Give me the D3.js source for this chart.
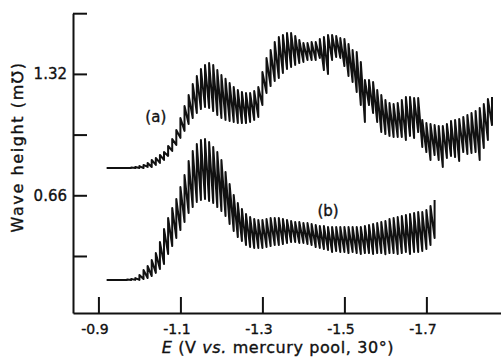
<!DOCTYPE html>
<html>
<head>
<meta charset="utf-8">
<script src="https://cdn.jsdelivr.net/npm/d3@7"></script>
<style>
  body { margin: 0; background: #fff; }
  text { font-family: "DejaVu Sans", sans-serif; fill: #111; stroke: #111; stroke-width: 0.35px; }
</style>
</head>
<body>
<svg id="chart" width="501" height="357"></svg>
<script>
// Potential grid: one recorded oscillation every 10 mV, starting at -0.92 V
const potentialStart = -0.92;
const potentialStep = 0.01;

// Curve (a): top and bottom of each oscillation (mS)
const waveAHigh = [
  0.808, 0.808, 0.808, 0.808, 0.808, 0.808, 0.811, 0.814, 0.819, 0.825,
  0.836, 0.852, 0.863, 0.879, 0.895, 0.928, 0.966, 1.015, 1.080, 1.146,
  1.205, 1.265, 1.309, 1.347, 1.369, 1.379, 1.369, 1.341, 1.314, 1.293,
  1.271, 1.249, 1.233, 1.222, 1.216, 1.216, 1.227, 1.249, 1.330, 1.407,
  1.450, 1.494, 1.521, 1.532, 1.542, 1.542, 1.526, 1.504, 1.488, 1.488,
  1.494, 1.494, 1.510, 1.521, 1.532, 1.532, 1.526, 1.515, 1.510, 1.483,
  1.450, 1.439, 1.385, 1.287, 1.287, 1.276, 1.233, 1.205, 1.178, 1.162,
  1.156, 1.162, 1.178, 1.195, 1.195, 1.189, 1.189, 1.070, 1.053, 1.048,
  1.042, 1.037, 1.037, 1.048, 1.064, 1.070, 1.075, 1.086, 1.097, 1.108,
  1.118, 1.135, 1.156, 1.184, 1.195
];
const waveALow = [
  0.808, 0.808, 0.808, 0.808, 0.808, 0.808, 0.808, 0.808, 0.808, 0.808,
  0.814, 0.814, 0.825, 0.836, 0.852, 0.874, 0.901, 0.934, 0.972, 1.010,
  1.048, 1.080, 1.108, 1.129, 1.140, 1.135, 1.118, 1.097, 1.080, 1.070,
  1.064, 1.059, 1.053, 1.053, 1.053, 1.059, 1.070, 1.086, 1.151, 1.216,
  1.254, 1.282, 1.298, 1.325, 1.347, 1.358, 1.369, 1.379, 1.385, 1.396,
  1.396, 1.396, 1.407, 1.341, 1.320, 1.396, 1.412, 1.407, 1.363, 1.309,
  1.276, 1.222, 1.151, 1.059, 1.151, 1.108, 1.059, 1.004, 0.993, 0.983,
  0.977, 0.977, 0.977, 0.961, 0.983, 0.972, 1.004, 0.923, 0.895, 0.852,
  0.879, 0.852, 0.814, 0.863, 0.874, 0.868, 0.847, 0.895, 0.885, 0.890,
  0.895, 0.852, 0.917, 0.961, 1.042
];

// Curve (b): top and bottom of each oscillation (mS)
const waveBHigh = [
  0.200, 0.200, 0.200, 0.200, 0.200, 0.202, 0.205, 0.210, 0.227, 0.254,
  0.276, 0.308, 0.346, 0.406, 0.477, 0.537, 0.591, 0.640, 0.705, 0.770,
  0.847, 0.901, 0.939, 0.961, 0.966, 0.950, 0.923, 0.895, 0.852, 0.787,
  0.721, 0.662, 0.618, 0.586, 0.558, 0.542, 0.531, 0.526, 0.526, 0.531,
  0.537, 0.537, 0.537, 0.531, 0.526, 0.520, 0.515, 0.515, 0.509, 0.509,
  0.504, 0.499, 0.493, 0.493, 0.488, 0.488, 0.488, 0.488, 0.488, 0.488,
  0.488, 0.488, 0.488, 0.493, 0.499, 0.504, 0.509, 0.515, 0.520, 0.531,
  0.537, 0.542, 0.548, 0.553, 0.558, 0.564, 0.569, 0.569, 0.580, 0.602,
  0.635
];
const waveBLow = [
  0.200, 0.200, 0.200, 0.200, 0.200, 0.200, 0.200, 0.200, 0.200, 0.205,
  0.210, 0.221, 0.238, 0.259, 0.286, 0.341, 0.384, 0.428, 0.471, 0.515,
  0.564, 0.596, 0.624, 0.635, 0.640, 0.629, 0.618, 0.596, 0.575, 0.548,
  0.504, 0.466, 0.433, 0.412, 0.390, 0.379, 0.374, 0.374, 0.374, 0.379,
  0.384, 0.390, 0.390, 0.395, 0.401, 0.406, 0.406, 0.401, 0.401, 0.395,
  0.390, 0.379, 0.374, 0.368, 0.363, 0.352, 0.357, 0.352, 0.352, 0.346,
  0.352, 0.346, 0.341, 0.346, 0.346, 0.341, 0.346, 0.346, 0.340, 0.346,
  0.346, 0.341, 0.346, 0.352, 0.341, 0.352, 0.352, 0.357, 0.368, 0.390,
  0.428
];

// Axis ticks
const xTickValues = [-0.9, -1.1, -1.3, -1.5, -1.7];
const xTickLabels = ["-0.9", "-1.1", "-1.3", "-1.5", "-1.7"];
const yTickValues = [0.33, 0.66, 0.99, 1.32, 1.65];
const yTickLabels = ["", "0.66", "", "1.32", ""];

const svg = d3.select("#chart");

const x = d3.scaleLinear().domain([-0.838, -1.882]).range([73, 501]);
const y = d3.scaleLinear().domain([0.02, 1.65]).range([313, 13.2]);

// Each oscillation: vertical stroke from bottom to top, then on to the next bottom
function oscillation(high, low) {
  const pts = [];
  high.forEach((h, i) => {
    const e = potentialStart - i * potentialStep;
    pts.push([e, low[i]]);
    pts.push([e, h]);
  });
  return pts;
}

const line = d3.line().x(d => x(d[0])).y(d => y(d[1]));

svg.append("g")
  .selectAll("path")
  .data([oscillation(waveAHigh, waveALow), oscillation(waveBHigh, waveBLow)])
  .join("path")
  .attr("d", line)
  .attr("fill", "none")
  .attr("stroke", "#111")
  .attr("stroke-width", 2)
  .attr("stroke-linejoin", "round");

// x axis, ticks pointing into the plot
const xAxis = svg.append("g")
  .attr("transform", `translate(0,${y(0.02)})`)
  .call(d3.axisBottom(x)
    .tickValues(xTickValues)
    .tickFormat((d, i) => xTickLabels[i])
    .tickSizeInner(-16)
    .tickSizeOuter(0)
    .tickPadding(8));

// y axis, ticks pointing into the plot
const yAxis = svg.append("g")
  .attr("transform", `translate(${x(-0.838)},0)`)
  .call(d3.axisLeft(y)
    .tickValues(yTickValues)
    .tickFormat((d, i) => yTickLabels[i])
    .tickSizeInner(-14)
    .tickSizeOuter(0)
    .tickPadding(6));

[xAxis, yAxis].forEach(g => {
  g.select(".domain").attr("stroke", "#111").attr("stroke-width", 2);
  g.selectAll(".tick line").attr("stroke", "#111").attr("stroke-width", 2);
  g.selectAll(".tick text")
    .attr("font-size", 14)
    .attr("font-family", "DejaVu Sans, sans-serif")
    .attr("fill", "#111");
});
xAxis.selectAll(".tick text").attr("dx", -4).attr("dy", "0.9em");
yAxis.selectAll(".tick text").attr("font-size", 15);

// Axis titles
const xTitle = svg.append("text")
  .attr("x", 278)
  .attr("y", 353)
  .attr("text-anchor", "middle")
  .attr("font-size", 16)
  .attr("letter-spacing", 0.6);
xTitle.append("tspan").attr("font-style", "italic").text("E");
xTitle.append("tspan").text(" (V ");
xTitle.append("tspan").attr("font-style", "italic").text("vs.");
xTitle.append("tspan").text(" mercury pool, 30°)");

svg.append("text")
  .attr("transform", "translate(23,147) rotate(-90)")
  .attr("text-anchor", "middle")
  .attr("font-size", 16)
  .attr("letter-spacing", 1.6)
  .text("Wave height (m\u2127)");

// Curve labels
svg.append("text")
  .attr("x", x(-1.04))
  .attr("y", y(1.06))
  .attr("text-anchor", "middle")
  .attr("font-size", 15)
  .text("(a)");

svg.append("text")
  .attr("x", x(-1.46))
  .attr("y", y(0.55))
  .attr("text-anchor", "middle")
  .attr("font-size", 15)
  .text("(b)");
</script>
</body>
</html>
